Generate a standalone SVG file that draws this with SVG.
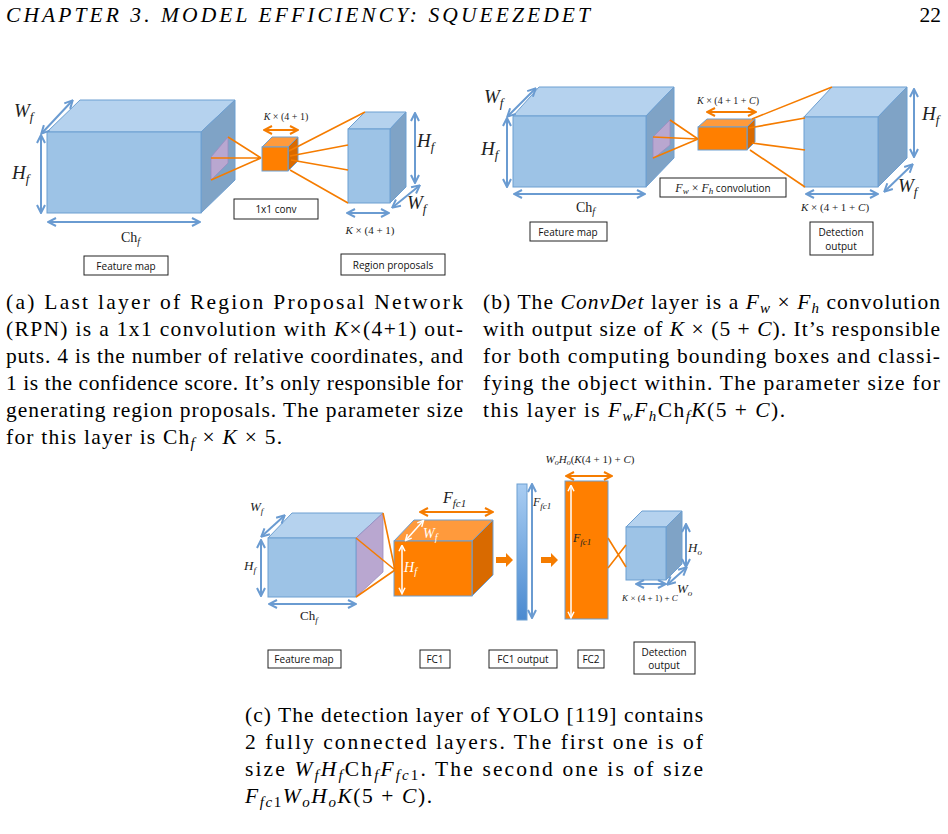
<svg xmlns="http://www.w3.org/2000/svg" width="948" height="834" viewBox="0 0 948 834">
<defs>
<marker id="mb" viewBox="0 0 10 10" refX="8" refY="5" markerWidth="5" markerHeight="5" orient="auto"><path d="M1,1 L9,5 L1,9" fill="none" stroke="#6a9bd1" stroke-width="2"/></marker>
<marker id="mbs" viewBox="0 0 10 10" refX="2" refY="5" markerWidth="5" markerHeight="5" orient="auto"><path d="M9,1 L1,5 L9,9" fill="none" stroke="#6a9bd1" stroke-width="2"/></marker>
<marker id="mo" viewBox="0 0 10 10" refX="8" refY="5" markerWidth="5" markerHeight="5" orient="auto"><path d="M1,1 L9,5 L1,9" fill="none" stroke="#f57c00" stroke-width="2"/></marker>
<marker id="mos" viewBox="0 0 10 10" refX="2" refY="5" markerWidth="5" markerHeight="5" orient="auto"><path d="M9,1 L1,5 L9,9" fill="none" stroke="#f57c00" stroke-width="2"/></marker>
<marker id="mw" viewBox="0 0 10 10" refX="8" refY="5" markerWidth="5" markerHeight="5" orient="auto"><path d="M1,1 L9,5 L1,9" fill="none" stroke="#fff" stroke-width="2"/></marker>
<marker id="mws" viewBox="0 0 10 10" refX="2" refY="5" markerWidth="5" markerHeight="5" orient="auto"><path d="M9,1 L1,5 L9,9" fill="none" stroke="#fff" stroke-width="2"/></marker>
<linearGradient id="gb" x1="0" y1="0" x2="0" y2="1"><stop offset="0" stop-color="#a9cdf2"/><stop offset="1" stop-color="#4a8ad0"/></linearGradient>
<style>
.bf{fill:#9dc3e6;stroke:#6d9fd1;stroke-width:1}
.bt{fill:#b5d2ee;stroke:#6d9fd1;stroke-width:1}
.br{fill:#7fa3c6;stroke:#6d9fd1;stroke-width:1}
.pu{fill:#b9a7d0;stroke:#9a8cc0;stroke-width:.8}
.of{fill:#ff7f00;stroke:#6d9fd1;stroke-width:1}
.ot{fill:#ff9a3c;stroke:#6d9fd1;stroke-width:1}
.or{fill:#d96a00;stroke:#6d9fd1;stroke-width:1}
.ab{stroke:#6a9bd1;stroke-width:2;fill:none;marker-start:url(#mbs);marker-end:url(#mb)}
.ao{stroke:#f57c00;stroke-width:2;fill:none;marker-start:url(#mos);marker-end:url(#mo)}
.aw{stroke:#fff;stroke-width:1.5;fill:none;marker-start:url(#mws);marker-end:url(#mw)}
.ol{stroke:#f57c00;stroke-width:1.6;fill:none}
.m{font-family:"Liberation Serif",serif;font-style:italic;fill:#222}
.r{font-family:"Liberation Serif",serif;fill:#222}
.lb{fill:#fff;stroke:#222;stroke-width:1}
.lt{font-family:"Open Sans","Liberation Sans",sans-serif;font-size:10px;fill:#111;text-anchor:middle}
.cap{font-family:"Liberation Serif",serif;font-size:21.5px;fill:#000}
.i{font-style:italic}
</style>
</defs>
<text x="6" y="22" class="cap" font-style="italic" font-size="20" textLength="584" lengthAdjust="spacing">CHAPTER 3.  MODEL EFFICIENCY: SQUEEZEDET</text>
<text x="941" y="22" class="cap" font-size="20" text-anchor="end">22</text>

<g id="a-feature">
<polygon class="bt" points="47,132 80,100 235,100 201,132"/>
<polygon class="br" points="201,132 235,100 235,180 201,213"/>
<rect class="bf" x="47" y="132" width="154" height="81"/>
<polygon class="pu" points="211,157 228,137 228,163 211,180"/>
</g>
<g id="a-conv">
<polygon class="ot" points="262,147 272,137 298,137 288,147"/>
<polygon class="or" points="288,147 298,137 298,161 288,171"/>
<rect class="of" x="262" y="147" width="26" height="24"/>
</g>
<g id="a-region">
<polygon class="bt" points="348,129 365,112 406,112 390,129"/>
<polygon class="br" points="390,129 406,112 406,187 390,203"/>
<rect class="bf" x="348" y="129" width="42" height="74"/>
</g>
<g id="a-connectors">
<path class="ol" d="M228,137 L261,158 M211,158 L261,158 M211,180 L261,158 M289,151 L365,112 M290,156 L348,145 M291,160 L348,170 M290,170 L348,203"/>
<path class="ao" d="M265,130 L297,130"/>
<path class="ab" d="M41,136 L41,212"/><path class="ab" d="M42,133 L72,101"/><path class="ab" d="M49,222 L199,222"/><path class="ab" d="M415,114 L415,182"/><path class="ab" d="M393,207 L419,186"/><path class="ab" d="M348,213 L388,213"/>
</g>
<g id="a-labels">
<text x="14" y="117" class="m" font-size="19">W<tspan font-size="13" dy="4">f</tspan></text>
<text x="12" y="179" class="m" font-size="19">H<tspan font-size="13" dy="4">f</tspan></text>
<text x="121" y="242" class="r" font-size="14">Ch<tspan font-size="10" dy="3" font-style="italic">f</tspan></text>
<text x="286" y="120" class="r" font-size="10" text-anchor="middle"><tspan font-style="italic">K</tspan> × (4 + 1)</text>
<text x="417" y="147" class="m" font-size="19">H<tspan font-size="13" dy="4">f</tspan></text>
<text x="407" y="209" class="m" font-size="19">W<tspan font-size="13" dy="4">f</tspan></text>
<text x="370" y="234" class="r" font-size="11" text-anchor="middle"><tspan font-style="italic">K</tspan> × (4 + 1)</text>
</g>
<g id="a-boxes">
<rect class="lb" x="234" y="199" width="84" height="20"/><text x="276" y="213" class="lt">1x1 conv</text>
<rect class="lb" x="84" y="256" width="84" height="19"/><text x="126" y="270" class="lt">Feature map</text>
<rect class="lb" x="341" y="254" width="104" height="21"/><text x="393" y="269" class="lt">Region proposals</text>
</g>

<g id="b-feature">
<polygon class="bt" points="513,116 539,87 674,87 646,116"/>
<polygon class="br" points="646,116 674,87 674,158 646,187"/>
<rect class="bf" x="513" y="116" width="133" height="71"/>
<polygon class="pu" points="653,137 670,120 670,145 653,159"/>
</g>
<g id="b-conv">
<polygon class="ot" points="698,127 707,119 755,119 747,127"/>
<polygon class="or" points="747,127 755,119 755,142 747,150"/>
<rect class="of" x="698" y="127" width="49" height="23"/>
</g>
<g id="b-det">
<polygon class="bt" points="804,117 832,87 907,87 878,117"/>
<polygon class="br" points="878,117 907,87 907,158 878,187"/>
<rect class="bf" x="804" y="117" width="74" height="70"/>
</g>
<g id="b-connectors">
<path class="ol" d="M670,120 L698,139 M653,137 L698,139 M653,158 L698,139 M752,119 L832,87 M749,128 L805,118 M752,143 L805,150 M750,150 L805,187"/>
<path class="ao" d="M708,112 L755,112"/>
<path class="ab" d="M507,119 L507,186"/><path class="ab" d="M508,116 L535,89"/><path class="ab" d="M515,194 L644,194"/><path class="ab" d="M914,90 L914,156"/><path class="ab" d="M885,191 L912,165"/><path class="ab" d="M807,194 L877,194"/>
</g>
<g id="b-labels">
<text x="484" y="103" class="m" font-size="19">W<tspan font-size="13" dy="4">f</tspan></text>
<text x="481" y="155" class="m" font-size="19">H<tspan font-size="13" dy="4">f</tspan></text>
<text x="576" y="212" class="r" font-size="14">Ch<tspan font-size="10" dy="3" font-style="italic">f</tspan></text>
<text x="728" y="104" class="r" font-size="10" text-anchor="middle"><tspan font-style="italic">K</tspan> × (4 + 1 + <tspan font-style="italic">C</tspan>)</text>
<text x="922" y="120" class="m" font-size="19">H<tspan font-size="13" dy="4">f</tspan></text>
<text x="898" y="192" class="m" font-size="19">W<tspan font-size="13" dy="4">f</tspan></text>
<text x="835" y="211" class="r" font-size="11" text-anchor="middle"><tspan font-style="italic">K</tspan> × (4 + 1 + <tspan font-style="italic">C</tspan>)</text>
</g>
<g id="b-boxes">
<rect class="lb" x="660" y="178" width="126" height="19"/><text x="723" y="192" class="lt"><tspan class="m" font-size="12">F<tspan font-size="9" dy="2">w</tspan><tspan dy="-2" font-style="normal"> × </tspan>F<tspan font-size="9" dy="2">h</tspan></tspan><tspan dy="-2"> convolution</tspan></text>
<rect class="lb" x="530" y="222" width="77" height="19"/><text x="568" y="236" class="lt">Feature map</text>
<rect class="lb" x="810" y="222" width="63" height="33"/><text x="841" y="236" class="lt">Detection</text><text x="841" y="250" class="lt">output</text>
</g>

<g id="c-feature">
<polygon class="bt" points="268,538 292,513 383,513 356,538"/>
<polygon class="pu" points="356,538 383,513 383,572 356,597"/>
<rect class="bf" x="268" y="538" width="88" height="59"/>
</g>
<g id="c-fc1">
<polygon class="ot" points="394,541 414,520 493,520 472,541"/>
<polygon class="or" points="472,541 493,520 493,575 472,596"/>
<rect class="of" x="394" y="541" width="78" height="55"/>
</g>
<g id="c-fc1out"><rect x="517" y="484" width="10" height="136" fill="url(#gb)" stroke="#6d9fd1"/></g>
<g id="c-fc2"><rect class="of" x="565" y="481" width="43" height="138"/></g>
<g id="c-det">
<polygon class="bt" points="626,527 642,511 682,511 666,527"/>
<polygon class="br" points="666,527 682,511 682,564 666,580"/>
<rect class="bf" x="626" y="527" width="40" height="53"/>
</g>
<g id="c-connectors">
<path class="ol" d="M383,513 L395,570 M356,538 L395,570 M356,597 L395,570 M608,538 L626,567 M608,568 L626,545"/>
<path d="M496,557 h10 v-4 l7,7 l-7,7 v-4 h-10 z M541,557 h10 v-4 l7,7 l-7,7 v-4 h-10 z" fill="#f57c00"/>
<path class="ao" d="M421,512 L492,512"/><path class="ao" d="M567,476 L611,476"/>
<path class="aw" d="M406,540 L423,521"/><path class="aw" d="M402,546 L402,593"/><path class="aw" d="M571,486 L571,617"/>
<path class="ab" d="M261,541 L261,595"/><path class="ab" d="M262,536 L284,516"/><path class="ab" d="M270,604 L355,604"/><path class="ab" d="M532,485 L532,617"/><path class="ab" d="M686,525 L686,566"/><path class="ab" d="M668,584 L686,568"/><path class="ab" d="M637,584 L665,584"/>
</g>
<g id="c-labels">
<text x="250" y="511" class="m" font-size="13">W<tspan font-size="9" dy="3">f</tspan></text>
<text x="244" y="570" class="m" font-size="13">H<tspan font-size="9" dy="3">f</tspan></text>
<text x="300" y="620" class="r" font-size="13">Ch<tspan font-size="9" dy="3" font-style="italic">f</tspan></text>
<text x="443" y="503" class="m" font-size="16">F<tspan font-size="11" dy="4">fc1</tspan></text>
<text x="423" y="538" class="m" font-size="14" style="fill:#fff">W<tspan font-size="10" dy="3">f</tspan></text>
<text x="404" y="572" class="m" font-size="14" style="fill:#fff">H<tspan font-size="10" dy="3">f</tspan></text>
<text x="533" y="506" class="m" font-size="12">F<tspan font-size="9" dy="3">fc1</tspan></text>
<text x="573" y="542" class="m" font-size="12">F<tspan font-size="9" dy="3">fc1</tspan></text>
<text x="590" y="463" class="m" font-size="11" text-anchor="middle">W<tspan font-size="8" dy="2">o</tspan><tspan dy="-2">H</tspan><tspan font-size="8" dy="2">o</tspan><tspan dy="-2" font-style="normal">(</tspan>K<tspan font-style="normal">(4 + 1) + </tspan>C<tspan font-style="normal">)</tspan></text>
<text x="688" y="552" class="m" font-size="13">H<tspan font-size="9" dy="3">o</tspan></text>
<text x="677" y="593" class="m" font-size="13">W<tspan font-size="9" dy="3">o</tspan></text>
<text x="650" y="601" class="r" font-size="9" text-anchor="middle"><tspan font-style="italic">K</tspan> × (4 + 1) + <tspan font-style="italic">C</tspan></text>
</g>
<g id="c-boxes">
<rect class="lb" x="268" y="650" width="73" height="18"/><text x="304" y="663" class="lt">Feature map</text>
<rect class="lb" x="420" y="650" width="30" height="18"/><text x="435" y="663" class="lt">FC1</text>
<rect class="lb" x="489" y="650" width="68" height="18"/><text x="523" y="663" class="lt">FC1 output</text>
<rect class="lb" x="578" y="650" width="26" height="18"/><text x="591" y="663" class="lt">FC2</text>
<rect class="lb" x="634" y="642" width="61" height="32"/><text x="664" y="656" class="lt">Detection</text><text x="664" y="669" class="lt">output</text>
</g>

<g id="captions">
<text x="6" y="309" class="cap" textLength="457" lengthAdjust="spacing">(a) Last layer of Region Proposal Network</text>
<text x="6" y="336" class="cap" textLength="457" lengthAdjust="spacing">(RPN) is a 1x1 convolution with <tspan class="i">K</tspan>×(4+1) out-</text>
<text x="6" y="363" class="cap" textLength="457" lengthAdjust="spacing">puts. 4 is the number of relative coordinates, and</text>
<text x="6" y="390" class="cap" textLength="457" lengthAdjust="spacing">1 is the confidence score. It’s only responsible for</text>
<text x="6" y="417" class="cap" textLength="457" lengthAdjust="spacing">generating region proposals. The parameter size</text>
<text x="6" y="444" class="cap" textLength="276" lengthAdjust="spacing">for this layer is Ch<tspan class="i" font-size="15" dy="4">f</tspan><tspan dy="-4"> × </tspan><tspan class="i">K</tspan> × 5.</text>

<text x="483" y="309" class="cap" textLength="457" lengthAdjust="spacing">(b) The <tspan class="i">ConvDet</tspan> layer is a <tspan class="i">F</tspan><tspan class="i" font-size="15" dy="4">w</tspan><tspan dy="-4"> × </tspan><tspan class="i">F</tspan><tspan class="i" font-size="15" dy="4">h</tspan><tspan dy="-4"> convolution</tspan></text>
<text x="483" y="336" class="cap" textLength="457" lengthAdjust="spacing">with output size of <tspan class="i">K</tspan> × (5 + <tspan class="i">C</tspan>). It’s responsible</text>
<text x="483" y="363" class="cap" textLength="457" lengthAdjust="spacing">for both computing bounding boxes and classi-</text>
<text x="483" y="390" class="cap" textLength="457" lengthAdjust="spacing">fying the object within. The parameter size for</text>
<text x="483" y="417" class="cap" textLength="302" lengthAdjust="spacing">this layer is <tspan class="i">F</tspan><tspan class="i" font-size="15" dy="4">w</tspan><tspan class="i" dy="-4">F</tspan><tspan class="i" font-size="15" dy="4">h</tspan><tspan dy="-4">Ch</tspan><tspan class="i" font-size="15" dy="4">f</tspan><tspan class="i" dy="-4">K</tspan>(5 + <tspan class="i">C</tspan>).</text>

<text x="245" y="722" class="cap" textLength="458" lengthAdjust="spacing">(c) The detection layer of YOLO [119] contains</text>
<text x="245" y="749" class="cap" textLength="458" lengthAdjust="spacing">2 fully connected layers.  The first one is of</text>
<text x="245" y="776" class="cap" textLength="458" lengthAdjust="spacing">size <tspan class="i">W</tspan><tspan class="i" font-size="15" dy="4">f</tspan><tspan class="i" dy="-4">H</tspan><tspan class="i" font-size="15" dy="4">f</tspan><tspan dy="-4">Ch</tspan><tspan class="i" font-size="15" dy="4">f</tspan><tspan class="i" dy="-4">F</tspan><tspan class="i" font-size="15" dy="4">fc</tspan><tspan font-size="15">1</tspan><tspan dy="-4">.  The second one is of size</tspan></text>
<text x="245" y="803" class="cap" textLength="187" lengthAdjust="spacing"><tspan class="i">F</tspan><tspan class="i" font-size="15" dy="4">fc</tspan><tspan font-size="15">1</tspan><tspan class="i" dy="-4">W</tspan><tspan class="i" font-size="15" dy="4">o</tspan><tspan class="i" dy="-4">H</tspan><tspan class="i" font-size="15" dy="4">o</tspan><tspan class="i" dy="-4">K</tspan>(5 + <tspan class="i">C</tspan>).</text>
</g>
</svg>
